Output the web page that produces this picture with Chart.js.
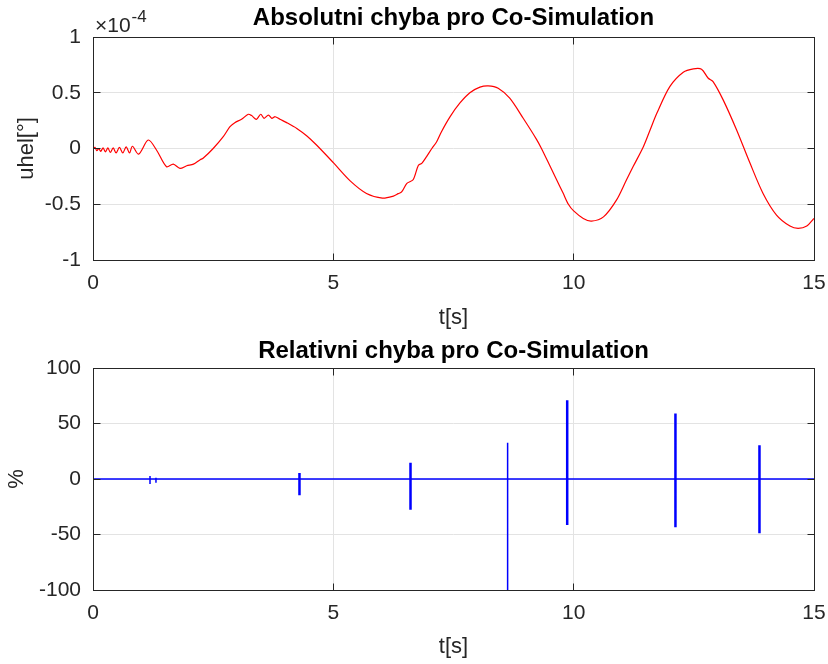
<!DOCTYPE html>
<html>
<head>
<meta charset="utf-8">
<script src="https://cdn.jsdelivr.net/npm/chart.js@4.4.0/dist/chart.umd.min.js"></script>
<style>
  body { margin: 0; background: #fff; }
  canvas { display: block; }
</style>
</head>
<body>
<canvas id="absChart" width="828" height="332"></canvas>
<canvas id="relChart" width="828" height="332"></canvas>
<script>
// top plot: absolute error, values in units of 1e-4 deg
const absTime = [0.00, 0.04, 0.08, 0.12, 0.16, 0.21, 0.26, 0.31, 0.36, 0.42, 0.48, 0.55, 0.62, 0.69, 0.76, 0.82, 0.95,
  1.15, 1.33, 1.53, 1.67, 1.81, 1.95, 2.09, 2.23, 2.29, 2.50, 2.71, 2.85, 2.95, 3.09, 3.23, 3.30, 3.40, 3.49, 3.56,
  3.65, 3.72, 3.79, 3.89, 4.03, 4.24, 4.45, 4.65, 5.00, 5.35, 5.69, 6.02, 6.25, 6.35, 6.42, 6.53, 6.66, 6.77, 6.84,
  6.94, 7.05, 7.15, 7.25, 7.43, 7.63, 7.84, 8.05, 8.22, 8.43, 8.67, 8.95, 9.23, 9.33, 9.51, 9.65, 9.78, 9.89, 10.00,
  10.20, 10.37, 10.62, 10.89, 11.10, 11.24, 11.45, 11.59, 11.73, 12.00, 12.28, 12.49, 12.66, 12.80, 12.90, 13.11,
  13.39, 13.67, 13.94, 14.22, 14.50, 14.67, 14.85, 15.00];
const absError = [0.00, 0.01, -0.02, 0.00, -0.025, 0.005, -0.03, 0.005, -0.035, 0.005, -0.04, 0.01, -0.04, 0.015, -0.04, 0.02, -0.05,
  0.076, -0.02, -0.163, -0.14, -0.178, -0.155, -0.14, -0.10, -0.088, 0.00, 0.106, 0.196, 0.232, 0.262, 0.307, 0.295, 0.262, 0.307, 0.271,
  0.300, 0.27, 0.285, 0.262, 0.232, 0.18, 0.112, 0.031, -0.127, -0.29, -0.403, -0.445, -0.427, -0.405, -0.39, -0.313, -0.28, -0.15, -0.133,
  -0.073, 0.00, 0.061, 0.151, 0.286, 0.406, 0.50, 0.55, 0.562, 0.541, 0.451, 0.271, 0.08, 0.00, -0.16, -0.285, -0.40, -0.50, -0.56,
  -0.627, -0.651, -0.613, -0.463, -0.28, -0.16, 0.016, 0.166, 0.316, 0.555, 0.684, 0.714, 0.711, 0.63, 0.60, 0.436,
  0.166, -0.133, -0.403, -0.597, -0.696, -0.717, -0.696, -0.627];
const absYTicks = [-1, -0.5, 0, 0.5, 1];
const absYLabels = ["-1", "-0.5", "0", "0.5", "1"];

// bottom plot: relative error in %
const relTime = [0, 1.186, 1.186, 1.186, 1.186, 1.31, 1.31, 1.31, 1.31,
  4.285, 4.285, 4.285, 4.306, 4.306, 4.306,
  6.595, 6.595, 6.595, 6.616, 6.616, 6.616,
  8.626, 8.626, 8.626, 8.626,
  9.855, 9.855, 9.855, 9.876, 9.876, 9.876,
  12.107, 12.107, 12.107, 12.128, 12.128, 12.128,
  13.855, 13.855, 13.855, 13.876, 13.876, 13.876, 15];
const relError = [0, 0, 2.7, -4.5, 0, 0, 1.2, -3.3, 0,
  0, 5.4, -14, -14, 5.4, 0,
  0, 14.6, -27, -27, 14.6, 0,
  0, 32.6, -100, 0,
  0, 71, -40.7, -40.7, 71, 0,
  0, 59, -42.8, -42.8, 59, 0,
  0, 30.3, -48.2, -48.2, 30.3, 0, 0];
const relYTicks = [-100, -50, 0, 50, 100];
const relYLabels = ["-100", "-50", "0", "50", "100"];

const timeTicks = [0, 5, 10, 15];
const timeLabels = ["0", "5", "10", "15"];

const FONT = "'Liberation Sans', Arial, sans-serif";
const AXIS = "#262626";

function px(v) { return Math.round(v - 0.5) + 0.5; }

const matlabBox = {
  id: "matlabBox",
  afterDraw(chart, args, opts) {
    const { ctx, chartArea: a } = chart;
    const L = px(a.left), R = px(a.right), T = px(a.top), B = px(a.bottom);
    ctx.save();
    ctx.strokeStyle = AXIS;
    ctx.lineWidth = 1;
    ctx.beginPath();
    chart.scales.x.ticks.forEach(t => {
      const x = px(chart.scales.x.getPixelForValue(t.value));
      ctx.moveTo(x, B); ctx.lineTo(x, B - 7);
      ctx.moveTo(x, T); ctx.lineTo(x, T + 7);
    });
    chart.scales.y.ticks.forEach(t => {
      const y = px(chart.scales.y.getPixelForValue(t.value));
      ctx.moveTo(L, y); ctx.lineTo(L + 7, y);
      ctx.moveTo(R, y); ctx.lineTo(R - 7, y);
    });
    ctx.stroke();
    ctx.strokeRect(L, T, R - L, B - T);

    // title centred over the axes, like MATLAB
    ctx.fillStyle = "#000";
    ctx.textAlign = "center";
    ctx.textBaseline = "middle";
    ctx.font = "bold 24px " + FONT;
    ctx.fillText(opts.title, (a.left + a.right) / 2, opts.titleY);

    if (opts.exponent) {
      ctx.fillStyle = AXIS;
      ctx.textAlign = "left";
      ctx.textBaseline = "alphabetic";
      ctx.font = "21px " + FONT;
      ctx.fillText("\u00d710", a.left + 2, 32);
      const w = ctx.measureText("\u00d710").width;
      ctx.font = "17px " + FONT;
      ctx.fillText(opts.exponent, a.left + 2 + w + 1, 22);
    }
    ctx.restore();
  }
};

function makeChart(id, time, values, color, yTicks, yLabels, cfg) {
  const points = time.map((t, i) => ({ x: t, y: values[i] }));
  return new Chart(document.getElementById(id), {
    type: "line",
    data: {
      datasets: [{
        data: points,
        borderColor: color,
        borderWidth: cfg.lineWidth,
        pointRadius: 0,
        fill: false,
        tension: cfg.smooth ? 0.3 : 0
      }]
    },
    options: {
      responsive: false,
      animation: false,
      devicePixelRatio: 1,
      layout: { padding: { left: 0, right: 14, top: cfg.plotTop, bottom: 0 } },
      plugins: {
        legend: { display: false },
        tooltip: { enabled: false },
        title: { display: false },
        matlabBox: { exponent: cfg.exponent, title: cfg.title, titleY: cfg.titleY }
      },
      scales: {
        x: {
          type: "linear",
          min: 0, max: 15,
          afterBuildTicks: s => { s.ticks = timeTicks.map(v => ({ value: v })); },
          afterFit: s => { s.height = cfg.xHeight; s.paddingLeft = 0; s.paddingRight = 0; },
          ticks: {
            color: AXIS,
            font: { family: FONT, size: 21 },
            padding: 11,
            maxRotation: 0,
            callback: v => timeLabels[timeTicks.indexOf(v)]
          },
          grid: { color: "#e3e3e3", drawTicks: false },
          border: { display: false },
          title: {
            display: true, text: "t[s]", color: AXIS,
            font: { family: FONT, size: 22 },
            padding: { top: 0, bottom: cfg.xTitleBottom }
          }
        },
        y: {
          type: "linear",
          min: yTicks[0], max: yTicks[yTicks.length - 1],
          afterBuildTicks: s => { s.ticks = yTicks.map(v => ({ value: v })); },
          afterFit: s => { s.width = 93; s.paddingTop = 0; s.paddingBottom = 0; },
          ticks: {
            color: AXIS,
            font: { family: FONT, size: 21 },
            padding: 12,
            callback: v => yLabels[yTicks.indexOf(v)]
          },
          grid: { color: "#e3e3e3", drawTicks: false },
          border: { display: false },
          title: {
            display: true, text: cfg.yTitle, color: AXIS,
            font: { family: FONT, size: 22 },
            padding: { top: cfg.yTitleLeft, bottom: 0 }
          }
        }
      }
    },
    plugins: [matlabBox]
  });
}

makeChart("absChart", absTime, absError, "#ff0000", absYTicks, absYLabels, {
  title: "Absolutni chyba pro Co-Simulation",
  titleY: 18, plotTop: 37,
  xHeight: 72, xTitleBottom: 1,
  yTitle: "uhel[\u00b0]", yTitleLeft: 14,
  exponent: "-4",
  lineWidth: 1.2, smooth: true
});

makeChart("relChart", relTime, relError, "#0000ff", relYTicks, relYLabels, {
  title: "Relativni chyba pro Co-Simulation",
  titleY: 19, plotTop: 36,
  xHeight: 74, xTitleBottom: 4,
  yTitle: "%", yTitleLeft: 4,
  exponent: null,
  lineWidth: 1.5, smooth: false
});
</script>
</body>
</html>
